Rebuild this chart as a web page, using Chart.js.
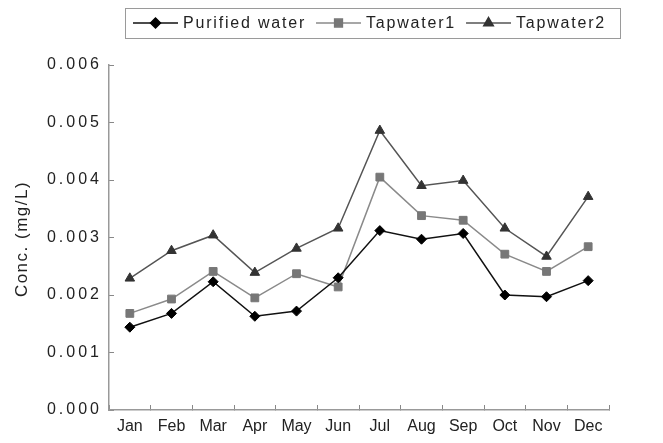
<!DOCTYPE html>
<html>
<head>
<meta charset="utf-8">
<title>Conc. by month</title>
<script src="https://cdn.jsdelivr.net/npm/chart.js"></script>
<style>
  body { margin: 0; background: #fff; }
  #wrap { width: 663px; height: 443px; }
</style>
</head>
<body>
<div id="wrap"><canvas id="chart" width="663" height="443"></canvas></div>
<script>
// Data
const months = ['Jan', 'Feb', 'Mar', 'Apr', 'May', 'Jun', 'Jul', 'Aug', 'Sep', 'Oct', 'Nov', 'Dec'];
const purifiedWater = [0.00144, 0.00168, 0.00223, 0.00163, 0.00172, 0.00230, 0.00312, 0.00297, 0.00307, 0.00200, 0.00197, 0.00225];
const tapwater1 = [0.00168, 0.00193, 0.00241, 0.00195, 0.00237, 0.00214, 0.00405, 0.00338, 0.00330, 0.00271, 0.00241, 0.00284];
const tapwater2 = [0.00229, 0.00277, 0.00304, 0.00239, 0.00281, 0.00316, 0.00486, 0.00390, 0.00399, 0.00316, 0.00267, 0.00371];
const yTicks = [0, 0.001, 0.002, 0.003, 0.004, 0.005, 0.006];

const FONT = '"Liberation Sans", Arial, sans-serif';

// Legend box and y title, drawn on top of the chart
const overlay = {
    id: 'overlay',
    afterDraw(chart) {
        const ctx = chart.ctx;
        ctx.save();
        ctx.strokeStyle = '#9a9a9a';
        ctx.lineWidth = 1;
        ctx.strokeRect(125.5, 8.5, 495, 30);

        ctx.font = '16px ' + FONT;
        ctx.letterSpacing = '1.8px';
        ctx.textBaseline = 'middle';
        ctx.textAlign = 'left';
        const cy = 23;
        let x = 133;
        chart.data.datasets.forEach(ds => {
            ctx.strokeStyle = ds.borderColor;
            ctx.lineWidth = ds.borderWidth;
            ctx.beginPath();
            ctx.moveTo(x, cy);
            ctx.lineTo(x + 45, cy);
            ctx.stroke();
            ctx.fillStyle = ds.pointBackgroundColor;
            ctx.strokeStyle = ds.pointBorderColor;
            Chart.helpers.drawPoint(ctx, { pointStyle: ds.pointStyle, radius: ds.pointRadius, borderWidth: 1, rotation: 0 }, x + 22.5, cy);
            ctx.fillStyle = '#222';
            ctx.fillText(ds.label, x + 50, cy + 1);
            x += 50 + ctx.measureText(ds.label).width + 10;
        });

        // y axis title
        ctx.translate(22, 239);
        ctx.rotate(-Math.PI / 2);
        ctx.textAlign = 'center';
        ctx.font = '17px ' + FONT;
        ctx.letterSpacing = '1.5px';
        ctx.fillStyle = '#222';
        ctx.fillText('Conc. (mg/L)', 0, 0);
        ctx.restore();
    }
};

const ctx = document.getElementById('chart').getContext('2d');
new Chart(ctx, {
    type: 'line',
    data: {
        labels: months,
        datasets: [
            {
                label: 'Purified water',
                data: purifiedWater,
                borderColor: '#111',
                borderWidth: 1.5,
                pointStyle: 'rectRot',
                pointRadius: 5,
                pointBackgroundColor: '#000',
                pointBorderColor: '#000',
                pointBorderWidth: 1
            },
            {
                label: 'Tapwater1',
                data: tapwater1,
                borderColor: '#8a8a8a',
                borderWidth: 1.5,
                pointStyle: 'rect',
                pointRadius: 5.5,
                pointBackgroundColor: '#777',
                pointBorderColor: '#777',
                pointBorderWidth: 1
            },
            {
                label: 'Tapwater2',
                data: tapwater2,
                borderColor: '#555',
                borderWidth: 1.5,
                pointStyle: 'triangle',
                pointRadius: 5.5,
                pointBackgroundColor: '#333',
                pointBorderColor: '#333',
                pointBorderWidth: 1
            }
        ]
    },
    options: {
        responsive: false,
        animation: false,
        layout: { padding: { top: 65, right: 54, left: 0, bottom: 0 } },
        elements: { line: { tension: 0 } },
        plugins: {
            legend: { display: false },
            tooltip: { enabled: false }
        },
        scales: {
            x: {
                offset: true,
                grid: {
                    offset: true,
                    drawOnChartArea: false,
                    drawTicks: true,
                    tickLength: -5,
                    color: '#888'
                },
                border: { display: true, color: '#999', width: 1.5 },
                ticks: {
                    color: '#222',
                    font: { size: 16, family: FONT },
                    padding: 12,
                    maxRotation: 0,
                    autoSkip: false
                },
                afterFit(scale) {
                    scale.height = 33;
                }
            },
            y: {
                min: 0,
                max: 0.006,
                afterBuildTicks(scale) {
                    scale.ticks = yTicks.map(v => ({ value: v }));
                },
                grid: {
                    drawOnChartArea: false,
                    drawTicks: true,
                    tickLength: -5,
                    color: '#888'
                },
                border: { display: true, color: '#999', width: 1.5 },
                ticks: {
                    color: '#222',
                    font: { size: 16, family: FONT },
                    padding: 12,
                    callback: v => v.toFixed(3)
                },
                afterFit(scale) {
                    scale.width = 109;
                    if (!scale.spaced) {
                        const orig = scale.drawLabels;
                        scale.drawLabels = function (area) {
                            this.ctx.save();
                            this.ctx.letterSpacing = '3px';
                            orig.call(this, area);
                            this.ctx.restore();
                        };
                        scale.spaced = true;
                    }
                }
            }
        }
    },
    plugins: [overlay]
});
</script>
</body>
</html>
